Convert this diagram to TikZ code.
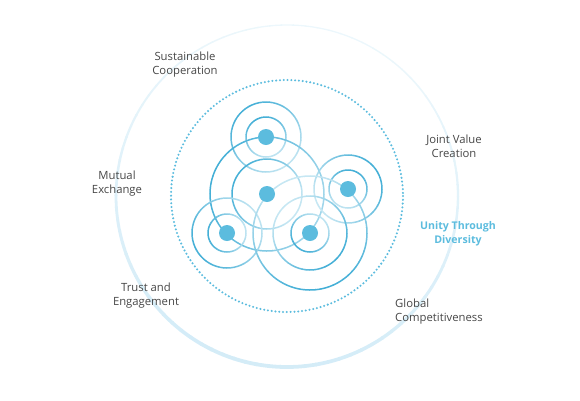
\documentclass[tikz,border=0pt]{standalone}
\usepackage{fontspec}
\setmainfont{Open Sans}
\definecolor{ringblue}{RGB}{66,174,214}
\definecolor{dotblue}{RGB}{92,188,222}
\definecolor{outerblue}{RGB}{170,218,240}
\definecolor{labelgray}{RGB}{70,70,70}
\newcommand{\gring}[6]{%
  \foreach \a in {0,6,...,354}{%
    \pgfmathtruncatemacro\pct{100*(#5+(1-#5)*(1+cos(\a+3-#4))/2)}%
    \draw[line width=#6, ringblue!\pct!white]
      ({#1+#3*cos(\a)},{#2+#3*sin(\a)}) arc[start angle=\a, end angle=\a+6.4, radius=#3];
  }}
\begin{document}
\begin{tikzpicture}[x=1pt,y=-1pt,
  lbl/.style={font=\fontsize{11.3}{14}\selectfont, text=labelgray, align=center, inner sep=0pt},
  blbl/.style={font=\fontsize{10.6}{14}\selectfont\bfseries, text=dotblue, align=center, inner sep=0pt},
  hub/.style={circle, fill=dotblue, minimum size=16pt, inner sep=0pt}]
\useasboundingbox (0,0) rectangle (580,400);
% outer circle with gradient
\foreach \a in {0,4,...,356}{%
  \pgfmathsetmacro\f{(1+cos(\a+2-100))/2}%
  \pgfmathtruncatemacro\pct{22+30*\f}%
  \pgfmathsetmacro\lw{1.3+2.5*\f}%
  \draw[line width=\lw pt, outerblue!\pct!white]
    ({287+171*cos(\a)},{196+171*sin(\a)}) arc[start angle=\a, end angle=\a+4.4, radius=171];
}
% dotted circle
\draw[dotblue, line width=2.3pt, dash pattern=on 0pt off 3.8pt, line cap=round] (287,196) circle[radius=116];
% rings
\gring{266}{137}{20}{250}{0.35}{1.5pt}
\gring{266}{137}{35}{230}{0.35}{1.5pt}
\gring{267}{194}{35}{210}{0.3}{1.5pt}
\gring{267}{194}{57}{200}{0.5}{1.5pt}
\gring{348}{189}{19}{290}{0.35}{1.5pt}
\gring{348}{189}{34}{330}{0.3}{1.5pt}
\gring{227}{233}{19}{170}{0.35}{1.5pt}
\gring{227}{233}{35}{150}{0.35}{1.5pt}
\gring{310}{233}{19}{130}{0.35}{1.5pt}
\gring{310}{233}{37}{45}{0.3}{1.5pt}
\gring{310}{233}{57}{75}{0.3}{1.5pt}
% hubs
\node[hub] (ha) at (266,137) {};
\node[hub] (hb) at (267,194) {};
\node[hub] (hc) at (348,189) {};
\node[hub] (hd) at (227,233) {};
\node[hub] (he) at (310,233) {};
% labels
\node[lbl] (sc) at (185,65) {Sustainable\\Cooperation};
\node[lbl] (jv) at (454,146) {Joint Value\\Creation};
\node[lbl] (me) at (117,184) {Mutual\\Exchange};
\node[blbl] (ut) at (458,234) {Unity Through\\Diversity};
\node[lbl] (te) at (146,296) {Trust and\\Engagement};
\node[lbl, anchor=west, align=left] (gc) at (395,312) {Global\\Competitiveness};
\end{tikzpicture}
\end{document}
